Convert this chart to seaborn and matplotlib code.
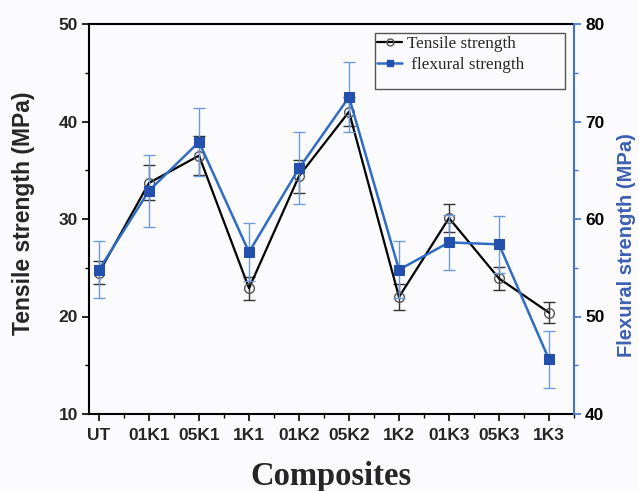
import numpy as np
import pandas as pd
import matplotlib
matplotlib.use("Agg")
import matplotlib.pyplot as plt
from matplotlib.ticker import MultipleLocator
from matplotlib.lines import Line2D
from matplotlib.patches import Rectangle
import seaborn as sns

categories = ["UT", "01K1", "05K1", "1K1", "01K2", "05K2", "1K2", "01K3", "05K3", "1K3"]
tensile = [24.5, 33.7, 36.5, 22.9, 34.4, 41.0, 22.0, 30.1, 23.9, 20.4]
tensile_err = [1.2, 1.8, 2.0, 1.2, 1.7, 1.5, 1.3, 1.4, 1.2, 1.1]
flexural = [54.8, 62.9, 67.9, 56.6, 65.2, 72.5, 54.8, 57.6, 57.4, 45.6]
flexural_err = [2.9, 3.7, 3.5, 3.0, 3.7, 3.6, 2.9, 2.8, 2.9, 2.9]

sns.set_style("ticks")
bg = "#fbfbfd"
blue_line = "#2f6cc4"
blue_mark = "#2350ad"
blue_err = "#6e9bd8"
blue_axis = "#3f72c8"
blue_label = "#3d5fb3"

df = pd.DataFrame({"pos": np.arange(len(categories)), "cat": categories,
                   "tensile": tensile, "flexural": flexural})

W, H = 639, 491
L, R, T, B = 89, 574, 24, 414
fig = plt.figure(figsize=(W/100, H/100), dpi=100, facecolor=bg)
ax = fig.add_axes([L/W, 1-B/H, (R-L)/W, (B-T)/H])
ax.set_facecolor(bg)
ax2 = ax.twinx()

def ax_coords(px, py):
    return ((px-L)/(R-L), 1-(py-T)/(B-T))

# Tensile
ax.errorbar(df["pos"], df["tensile"], yerr=tensile_err, fmt="none",
            ecolor="#333333", elinewidth=1.0, capsize=4, capthick=1.0, zorder=2)
sns.lineplot(data=df, x="pos", y="tensile", ax=ax, color="black", lw=1.6,
             marker="o", markersize=7, markerfacecolor="none",
             markeredgecolor="#555555", markeredgewidth=1.0, sort=False, zorder=3)

# Flexural
ax2.errorbar(df["pos"], df["flexural"], yerr=flexural_err, fmt="none",
             ecolor=blue_err, elinewidth=1.0, capsize=4, capthick=1.0, zorder=2)
sns.lineplot(data=df, x="pos", y="flexural", ax=ax2, color=blue_line, lw=1.8,
             marker="s", markersize=6.5, markerfacecolor=blue_mark,
             markeredgecolor=blue_mark, sort=False, zorder=3)

ax.set_xlim(-0.2, 9.5)
ax.set_ylim(10, 50)
ax2.set_ylim(40, 80)

ax.set_xticks(df["pos"])
ax.set_xticklabels(categories)
ax.xaxis.set_minor_locator(MultipleLocator(0.5))
ax.yaxis.set_major_locator(MultipleLocator(10))
ax.yaxis.set_minor_locator(MultipleLocator(5))
ax2.yaxis.set_major_locator(MultipleLocator(10))
ax2.yaxis.set_minor_locator(MultipleLocator(5))

for lab in ax.get_xticklabels() + ax.get_yticklabels() + ax2.get_yticklabels():
    lab.set_fontfamily("Liberation Sans")
    lab.set_fontweight("bold")
    lab.set_fontsize(12.5)

ax.tick_params(axis="y", which="major", direction="out", length=5, width=1.2, color="black", pad=3)
ax.tick_params(axis="x", which="major", direction="out", length=5, width=1.2, color="black", pad=5)
ax.tick_params(axis="both", which="minor", direction="out", length=3, width=1.0, color="black")
ax2.tick_params(axis="y", which="major", direction="out", length=5, width=1.2, labelcolor="black", color=blue_axis, pad=3)
ax2.tick_params(axis="y", which="minor", direction="out", length=3, width=1.0, color=blue_axis)

for s in ["left", "top", "bottom"]:
    ax.spines[s].set_linewidth(1.5)
    ax.spines[s].set_color("black")
ax.spines["right"].set_visible(False)
ax2.spines["right"].set_color(blue_axis)
ax2.spines["right"].set_linewidth(1.5)
for s in ["left", "top", "bottom"]:
    ax2.spines[s].set_visible(False)

ax.set_xlabel("Composites", fontfamily="Liberation Serif", fontweight="bold", fontsize=23.5)
ax.xaxis.set_label_coords(*ax_coords(331, 477))
ax.xaxis.label.set_va("center")
ax.set_ylabel("Tensile strength (MPa)", fontfamily="Liberation Sans", fontweight="bold", fontsize=16.5)
ax.yaxis.set_label_coords(*ax_coords(23, 213))
ax.yaxis.label.set_va("center")
ax2.set_ylabel("Flexural strength (MPa)", fontfamily="Liberation Sans", fontweight="bold", fontsize=14.5,
               color=blue_label)
ax2.yaxis.set_label_coords(*ax_coords(627, 245))
ax2.yaxis.label.set_va("center")

handles = [
    Line2D([], [], color="black", lw=1.6, marker="o", markersize=5, markerfacecolor="none", markeredgecolor="#555555"),
    Line2D([], [], color=blue_line, lw=1.8, marker="s", markersize=5, markerfacecolor=blue_mark, markeredgecolor=blue_mark),
]
leg = ax2.legend(handles, ["Tensile strength", " flexural strength"], loc="upper left",
                 bbox_to_anchor=ax_coords(375, 34), borderaxespad=0, frameon=False,
                 handlelength=1.5, handletextpad=0.3, borderpad=0.1, labelspacing=0.3,
                 prop=dict(family="Liberation Serif", size=12.3))
x0, y0 = ax_coords(375, 89)
x1, y1 = ax_coords(565, 33)
ax2.add_patch(Rectangle((x0, y0), x1-x0, y1-y0, transform=ax2.transAxes, fill=False,
                        edgecolor="#555555", lw=1.0, zorder=5, clip_on=False))

fig.savefig("out.png", dpi=100, facecolor=bg)
